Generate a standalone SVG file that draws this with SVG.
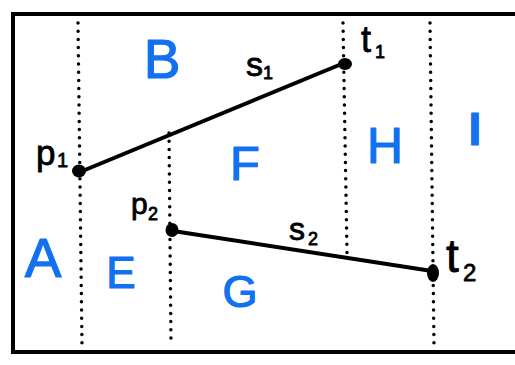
<svg xmlns="http://www.w3.org/2000/svg" width="515" height="365" viewBox="0 0 515 365">
<style>
.frame{fill:none;stroke:#000;stroke-width:4}
.dot{fill:none;stroke:#000;stroke-width:3.5;stroke-linecap:round;stroke-dasharray:0 8.2}
.seg{fill:none;stroke:#000;stroke-width:4;stroke-linecap:round}
.pt{fill:#000}
.lbl{font-family:"Liberation Sans",Arial,sans-serif;fill:#000;stroke:#000;stroke-width:0.8;stroke-linejoin:round}
.reg{font-family:"Liberation Sans",Arial,sans-serif;fill:#1271f0;stroke:#1271f0;stroke-width:1.2;stroke-linejoin:round;text-anchor:middle}
</style>
<rect width="515" height="365" fill="#fff"/>
<path class="frame" d="M515 14 H13 V352 H515"/>
<g id="dividers">
<line class="dot" x1="78" y1="23" x2="82" y2="346"/>
<line class="dot" x1="169" y1="133" x2="171" y2="346"/>
<line class="dot" x1="343" y1="23" x2="347" y2="253"/>
<line class="dot" x1="430" y1="23" x2="434" y2="346"/>
</g>
<g id="connectors">
<line id="s1-line" class="seg" x1="80" y1="172" x2="344" y2="63"/>
<line id="s2-line" class="seg" x1="173" y1="231" x2="432" y2="271"/>
</g>
<g id="p1">
<ellipse class="pt" cx="79" cy="171" rx="7" ry="6.5"/>
<text class="lbl" x="36" y="165" font-size="35">p<tspan x="57" y="167" font-size="20">1</tspan></text>
</g>
<g id="t1">
<ellipse class="pt" cx="345" cy="64" rx="7" ry="6"/>
<text class="lbl" x="361" y="52" font-size="36">t<tspan x="375" y="58" font-size="18">1</tspan></text>
</g>
<g id="p2">
<ellipse class="pt" cx="172" cy="230" rx="6.5" ry="7"/>
<text class="lbl" x="131" y="214" font-size="30">p<tspan x="148" y="220" font-size="18">2</tspan></text>
</g>
<g id="t2">
<ellipse class="pt" cx="433" cy="273" rx="6" ry="9"/>
<text class="lbl" x="446" y="272" font-size="46">t<tspan x="463" y="281" font-size="24">2</tspan></text>
</g>
<g id="s1">
<text class="lbl" x="246" y="76" font-size="34">s<tspan x="263" y="79" font-size="18">1</tspan></text>
</g>
<g id="s2">
<text class="lbl" x="289" y="240" font-size="32">s<tspan x="308" y="245" font-size="18">2</tspan></text>
</g>
<g id="region-A"><text class="reg" x="43" y="277" font-size="55">A</text></g>
<g id="region-B"><text class="reg" x="162" y="78" font-size="55">B</text></g>
<g id="region-E"><text class="reg" x="121" y="288" font-size="44">E</text></g>
<g id="region-F"><text class="reg" x="245" y="180" font-size="49">F</text></g>
<g id="region-G"><text class="reg" x="240" y="307" font-size="45">G</text></g>
<g id="region-H"><text class="reg" x="385" y="163" font-size="50">H</text></g>
<g id="region-I"><text class="reg" x="475" y="145" font-size="46" font-family="Liberation Serif,serif" font-weight="bold">I</text></g>
</svg>
